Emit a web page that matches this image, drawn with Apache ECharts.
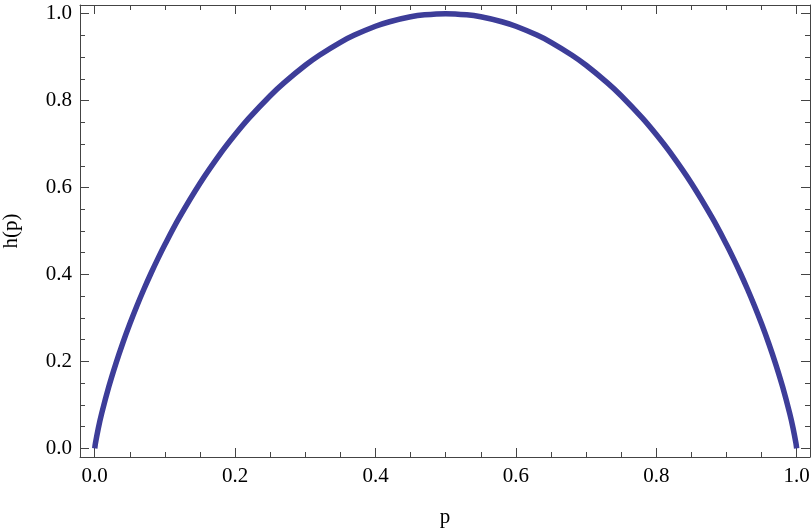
<!DOCTYPE html>
<html><head><meta charset="utf-8">
<script src="https://cdn.jsdelivr.net/npm/echarts@6/dist/echarts.min.js"></script>
<style>html,body{margin:0;padding:0;background:#fff}#c{width:812px;height:531px}</style>
</head><body><div id="c"></div>
<script>
var pValues = [0, 0.001, 0.005, 0.01, 0.02, 0.03, 0.04, 0.05, 0.06, 0.07, 0.08, 0.09, 0.1, 0.12, 0.15, 0.18, 0.2, 0.22, 0.25, 0.27, 0.3, 0.32, 0.35, 0.37, 0.4, 0.42, 0.45, 0.47, 0.5,
  0.53, 0.55, 0.58, 0.6, 0.63, 0.65, 0.68, 0.7, 0.73, 0.75, 0.78, 0.8, 0.82, 0.85, 0.88, 0.9, 0.91, 0.92, 0.93, 0.94, 0.95, 0.96, 0.97, 0.98, 0.99, 0.995, 0.999, 1];
var hValues = [0, 0.0114, 0.0454, 0.0808, 0.1414, 0.1944, 0.2423, 0.2864, 0.3274, 0.3659, 0.4022, 0.4365, 0.4690, 0.5294, 0.6098, 0.6801, 0.7219, 0.7602, 0.8113, 0.8414, 0.8813, 0.9044, 0.9341, 0.9507, 0.9710, 0.9815, 0.9928, 0.9974, 1.0,
  0.9974, 0.9928, 0.9815, 0.9710, 0.9507, 0.9341, 0.9044, 0.8813, 0.8414, 0.8113, 0.7602, 0.7219, 0.6801, 0.6098, 0.5294, 0.4690, 0.4365, 0.4022, 0.3659, 0.3274, 0.2864, 0.2423, 0.1944, 0.1414, 0.0808, 0.0454, 0.0114, 0];
var majorTicks = [0, 0.2, 0.4, 0.6, 0.8, 1.0];
var minorTicks = [0.05, 0.1, 0.15, 0.25, 0.3, 0.35, 0.45, 0.5, 0.55, 0.65, 0.7, 0.75, 0.85, 0.9, 0.95];
var xName = 'p', yName = 'h(p)';

var axisColor = '#444';
var font = 'Liberation Serif, Times New Roman, serif';
function ax(type, pos, ticks, len, showLine, labels, name) {
  var a = {
    type: 'value', position: pos,
    min: type === 'x' ? -0.021 : -0.02, max: type === 'x' ? 1.019 : 1.02,
    splitLine: {show: false},
    axisLine: {show: showLine, onZero: false, lineStyle: {color: axisColor, width: 1}},
    axisTick: {show: true, inside: true, length: len, customValues: ticks, lineStyle: {color: axisColor, width: 1}},
    axisLabel: labels ? {show: true, customValues: ticks, formatter: function (v) { return v.toFixed(1); },
      fontFamily: font, fontSize: 21, color: '#000', margin: type === 'x' ? 9 : 8} : {show: false}
  };
  if (name) {
    a.name = name; a.nameLocation = 'middle';
    a.nameTextStyle = {fontFamily: font, fontSize: 21, color: '#000'};
    a.nameGap = type === 'x' ? 50 : 58;
  }
  return a;
}
var chart = echarts.init(document.getElementById('c'));
chart.setOption({
  animation: false,
  grid: {left: 80, right: 2, top: 5, bottom: 74, containLabel: false, outerBoundsMode: 'none'},
  xAxis: [
    ax('x', 'bottom', majorTicks, 9, true, true, xName),
    ax('x', 'bottom', minorTicks, 5, false, false),
    ax('x', 'top', majorTicks, 9, true, false),
    ax('x', 'top', minorTicks, 5, false, false)
  ],
  yAxis: [
    ax('y', 'left', majorTicks, 9, true, true, yName),
    ax('y', 'left', minorTicks, 5, false, false),
    ax('y', 'right', majorTicks, 9, true, false),
    ax('y', 'right', minorTicks, 5, false, false)
  ],
  series: [{
    type: 'line', xAxisIndex: 0, yAxisIndex: 0,
    data: pValues.map(function (p, i) { return [p, hValues[i]]; }),
    showSymbol: false, smooth: 0.3,
    lineStyle: {color: '#3d3d99', width: 5.5, cap: 'butt'}
  }]
});
</script></body></html>
